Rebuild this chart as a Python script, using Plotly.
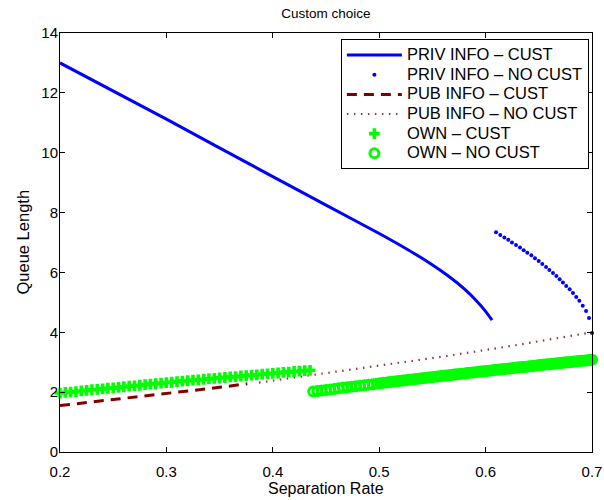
import plotly.graph_objects as go

# ---------------- data ----------------
priv_cust_x = [0.200, 0.300, 0.400, 0.450, 0.500, 0.525, 0.548, 0.565, 0.580, 0.592, 0.600, 0.606]
priv_cust_y = [13.00, 11.12, 9.20, 8.25, 7.30, 6.80, 6.30, 5.88, 5.45, 5.03, 4.70, 4.41]

priv_nocust_x = [0.6098, 0.6138, 0.6176, 0.6213, 0.6248, 0.6286, 0.6323, 0.6358, 0.6392, 0.6430,
                 0.6464, 0.6499, 0.6533, 0.6568, 0.6599, 0.6633, 0.6665, 0.6696, 0.6727, 0.6758,
                 0.6790, 0.6821, 0.6852, 0.6881, 0.6913, 0.6944, 0.6972, 0.7000]
priv_nocust_y = [7.34, 7.25, 7.17, 7.09, 7.00, 6.92, 6.83, 6.74, 6.66, 6.57,
                 6.47, 6.38, 6.28, 6.18, 6.08, 5.98, 5.88, 5.77, 5.66, 5.55,
                 5.44, 5.31, 5.18, 5.05, 4.89, 4.71, 4.48, 3.98]

pub_cust_x = [0.200, 0.250, 0.300, 0.350, 0.376]
pub_cust_y = [1.55, 1.75, 1.95, 2.16, 2.28]

pub_nocust_x = [0.387, 0.437, 0.500, 0.560, 0.620, 0.660, 0.700]
pub_nocust_y = [2.32, 2.57, 2.88, 3.19, 3.52, 3.75, 4.00]

own_cust_x = [0.200, 0.205, 0.210, 0.215, 0.220, 0.225, 0.230, 0.235, 0.240, 0.245,
              0.250, 0.255, 0.260, 0.265, 0.270, 0.275, 0.280, 0.285, 0.290, 0.295,
              0.300, 0.305, 0.310, 0.315, 0.320, 0.325, 0.330, 0.335, 0.340, 0.345,
              0.350, 0.355, 0.360, 0.365, 0.370, 0.375, 0.380, 0.385, 0.390, 0.395,
              0.400, 0.405, 0.410, 0.415, 0.420, 0.425, 0.430, 0.435]
own_cust_y = [1.97, 1.99, 2.00, 2.02, 2.04, 2.06, 2.08, 2.09, 2.11, 2.13,
              2.14, 2.16, 2.18, 2.20, 2.21, 2.23, 2.25, 2.27, 2.28, 2.30,
              2.32, 2.33, 2.35, 2.37, 2.38, 2.40, 2.41, 2.43, 2.45, 2.46,
              2.48, 2.49, 2.51, 2.52, 2.54, 2.55, 2.57, 2.58, 2.60, 2.61,
              2.63, 2.64, 2.66, 2.67, 2.69, 2.70, 2.72, 2.73]

own_nocust_x = [0.438, 0.442, 0.446, 0.450, 0.454, 0.458, 0.462, 0.466, 0.470, 0.474,
                0.478, 0.482, 0.486, 0.490, 0.494, 0.498,
                0.501, 0.504, 0.507, 0.510, 0.513, 0.516, 0.519, 0.522, 0.525, 0.528,
                0.531, 0.534, 0.537, 0.540, 0.543, 0.546, 0.549, 0.552, 0.555, 0.558,
                0.5605, 0.563, 0.5655, 0.568, 0.5705, 0.573, 0.5755, 0.578, 0.5805, 0.583,
                0.5855, 0.588, 0.5905, 0.593, 0.5955, 0.598, 0.6005, 0.603, 0.6055, 0.608,
                0.6105, 0.613, 0.6155, 0.618, 0.6205, 0.623, 0.6255, 0.628,
                0.630, 0.632, 0.634, 0.636, 0.638, 0.640, 0.642, 0.644, 0.646, 0.648,
                0.650, 0.652, 0.654, 0.656, 0.658, 0.660, 0.662, 0.664, 0.666, 0.668,
                0.670, 0.672, 0.674, 0.676, 0.678, 0.680, 0.682, 0.684, 0.686, 0.688,
                0.690, 0.692, 0.694, 0.696, 0.698, 0.700]
own_nocust_y = [2.020, 2.038, 2.056, 2.074, 2.092, 2.109, 2.127, 2.145, 2.162, 2.180,
                2.197, 2.215, 2.232, 2.249, 2.267, 2.284,
                2.297, 2.310, 2.322, 2.335, 2.348, 2.361, 2.373, 2.386, 2.399, 2.411,
                2.424, 2.436, 2.449, 2.461, 2.474, 2.486, 2.499, 2.511, 2.523, 2.536,
                2.546, 2.556, 2.566, 2.576, 2.586, 2.597, 2.607, 2.617, 2.627, 2.637,
                2.647, 2.657, 2.667, 2.677, 2.687, 2.696, 2.706, 2.716, 2.726, 2.736,
                2.746, 2.755, 2.765, 2.775, 2.785, 2.794, 2.804, 2.814,
                2.821, 2.829, 2.837, 2.844, 2.852, 2.860, 2.867, 2.875, 2.882, 2.890,
                2.898, 2.905, 2.913, 2.920, 2.928, 2.935, 2.943, 2.950, 2.958, 2.965,
                2.973, 2.980, 2.987, 2.995, 3.002, 3.009, 3.017, 3.024, 3.031, 3.039,
                3.046, 3.053, 3.061, 3.068, 3.075, 3.082]

x_ticks = [0.2, 0.3, 0.4, 0.5, 0.6, 0.7]
x_tick_labels = ["0.2", "0.3", "0.4", "0.5", "0.6", "0.7"]
y_ticks = [0, 2, 4, 6, 8, 10, 12, 14]
y_tick_labels = ["0", "2", "4", "6", "8", "10", "12", "14"]

names = ["PRIV INFO \u2013 CUST", "PRIV INFO \u2013 NO CUST", "PUB INFO \u2013 CUST",
         "PUB INFO \u2013 NO CUST", "OWN \u2013 CUST", "OWN \u2013 NO CUST"]
title_text = "Custom choice"
x_title = "Separation Rate"
y_title = "Queue Length"

FONT = "Liberation Sans, Arial, Helvetica, sans-serif"


def leg(name):
    # bigger glyphs inside a legend row whose height follows the smaller legend font
    return "<span style='font-size:16.5px'>" + name + "</span>"


fig = go.Figure()
fig.add_trace(go.Scatter(x=priv_cust_x, y=priv_cust_y, mode="lines", name=leg(names[0]),
                         line=dict(color="#0000ff", width=3, shape="spline", smoothing=0.6),
                         cliponaxis=False))
fig.add_trace(go.Scatter(x=priv_nocust_x, y=priv_nocust_y, mode="markers", name=leg(names[1]),
                         marker=dict(color="#0000ff", size=4, symbol="circle"), cliponaxis=False))
fig.add_trace(go.Scatter(x=pub_cust_x, y=pub_cust_y, mode="lines", name=leg(names[2]),
                         line=dict(color="#800000", width=3, dash="10px,7px"), cliponaxis=False))
fig.add_trace(go.Scatter(x=pub_nocust_x, y=pub_nocust_y, mode="lines", name=leg(names[3]),
                         line=dict(color="#9a3434", width=2.2, dash="1.5px,5.5px"), cliponaxis=False))
fig.add_trace(go.Scatter(x=own_cust_x, y=own_cust_y, mode="markers", name=leg(names[4]),
                         marker=dict(color="#00ff00", size=9, symbol="cross", line=dict(width=0)),
                         cliponaxis=False))
fig.add_trace(go.Scatter(x=own_nocust_x, y=own_nocust_y, mode="markers", name=leg(names[5]),
                         marker=dict(color="#00ff00", size=9, symbol="circle-open",
                                     line=dict(color="#00ff00", width=3)),
                         cliponaxis=False))

axis_common = dict(showline=True, linecolor="black", linewidth=1, mirror="ticks",
                   ticks="inside", ticklen=5, tickcolor="black", tickwidth=1,
                   showgrid=False, zeroline=False, automargin=False,
                   tickfont=dict(family=FONT, size=15, color="black"))

fig.update_layout(
    width=604, height=500,
    margin=dict(l=60, r=12, t=33, b=48, autoexpand=False),
    plot_bgcolor="white", paper_bgcolor="white",
    font=dict(family=FONT, color="black"),
    title=dict(text=title_text, x=0.5, xref="paper", xanchor="center",
               y=1 - 13 / 500, yref="container", yanchor="middle",
               font=dict(family=FONT, size=13.5, color="black")),
    xaxis=dict(range=[0.2, 0.7], tickvals=x_ticks, ticktext=x_tick_labels,
               ticklabelstandoff=6, **axis_common),
    yaxis=dict(range=[0, 14], tickvals=y_ticks, ticktext=y_tick_labels,
               ticklabelstandoff=-2, **axis_common),
    legend=dict(x=0.528, y=0.985, xanchor="left", yanchor="top",
                bgcolor="white", bordercolor="black", borderwidth=1,
                font=dict(family=FONT, size=12.8, color="black"),
                itemwidth=55, tracegroupgap=0),
    showlegend=True,
    annotations=[
        dict(text=x_title, xref="paper", yref="paper", x=0.5, y=0,
             xanchor="center", yanchor="middle", yshift=-36.5, showarrow=False,
             font=dict(family=FONT, size=16, color="black")),
        dict(text=y_title, xref="paper", yref="paper", x=0, y=0.5, textangle=-90,
             xanchor="center", yanchor="middle", xshift=-38, showarrow=False,
             font=dict(family=FONT, size=16.5, color="black")),
    ],
)

fig.write_html("out.html", post_script="document.body.style.margin='0';",
               config={"displayModeBar": False})
